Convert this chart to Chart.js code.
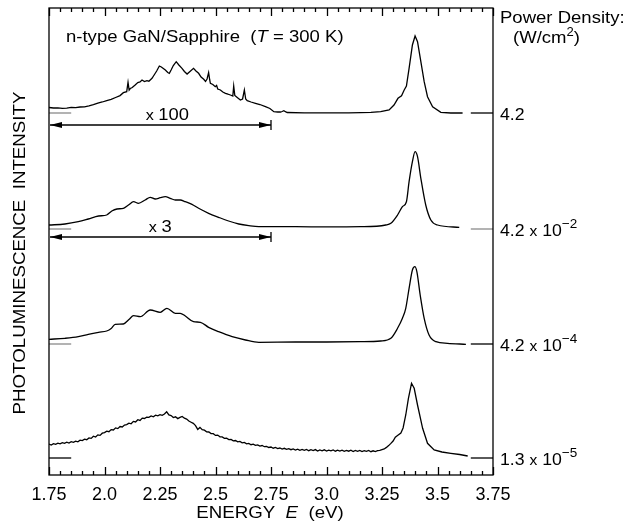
<!DOCTYPE html>
<html><head><meta charset="utf-8">
<script src="https://cdn.jsdelivr.net/npm/chart.js@4.4.1/dist/chart.umd.min.js"></script>
<style>html,body{margin:0;padding:0;background:#fff;overflow:hidden}#wrap{width:630px;height:527px}</style>
</head><body><div id="wrap"><canvas id="c" width="630" height="527"></canvas></div>
<script>
// ---- tick labels ----
const tickLabels = ["1.75","2.0","2.25","2.5","2.75","3.0","3.25","3.5","3.75"];

// ---- series (energy in eV, intensity in arbitrary units above each trace's baseline) ----
const energy1 = [1.75,1.77,1.79,1.81,1.83,1.85,1.87,1.89,1.91,1.93,1.95,1.97,1.99,2.01,2.03,2.05,2.07,2.085,2.100,2.106,2.111,2.116,2.125,2.138,2.150,2.160,2.169,2.180,2.191,2.200,2.214,2.225,2.235,2.247,2.256,2.265,2.274,2.285,2.292,2.300,2.310,2.323,2.335,2.349,2.360,2.372,2.385,2.401,2.412,2.424,2.435,2.447,2.455,2.462,2.469,2.474,2.477,2.488,2.499,2.505,2.510,2.522,2.533,2.545,2.556,2.567,2.578,2.582,2.587,2.598,2.612,2.622,2.630,2.636,2.643,2.660,2.680,2.700,2.725,2.745,2.763,2.780,2.793,2.800,2.808,2.815,2.823,2.90,3.00,3.10,3.154,3.20,3.244,3.282,3.304,3.322,3.338,3.350,3.360,3.372,3.387,3.399,3.410,3.425,3.440,3.455,3.478,3.515,3.560,3.613];
const intensity1 = [5.5,5.0,5.2,4.6,4.9,5.6,5.3,6.0,6.2,7.2,8.4,9.8,11.0,12.4,13.6,15.5,17.4,20.3,21.3,30.7,23.0,24.5,25.5,28.0,30.5,31.0,33.0,31.5,32.3,31.8,34.7,38.5,42.0,47.0,46.0,44.5,43.0,40.5,39.7,43.0,47.5,51.3,48.0,44.7,41.5,39.0,41.5,44.7,42.0,39.7,36.0,33.7,31.5,34.0,40.3,33.0,29.7,28.5,26.3,27.5,24.0,23.0,21.0,19.7,18.8,18.0,17.0,27.0,17.5,15.5,13.0,14.0,23.0,14.0,12.3,11.0,9.7,8.5,6.3,4.5,1.3,1.0,1.0,1.5,2.3,1.3,0.5,0.2,0.2,0.2,0.3,0.6,1.3,3.0,8.0,14.7,17.3,23.0,27.0,44.7,68.0,77.0,71.3,51.3,31.3,16.3,6.3,0.7,0.0,0.0];

const energy2 = [1.75,1.822,1.882,1.927,1.973,2.010,2.033,2.056,2.085,2.108,2.131,2.153,2.183,2.206,2.229,2.251,2.274,2.296,2.319,2.341,2.364,2.394,2.424,2.469,2.514,2.559,2.605,2.650,2.695,2.861,3.000,3.154,3.267,3.290,3.320,3.342,3.360,3.372,3.387,3.399,3.410,3.425,3.447,3.470,3.500,3.598];
const intensity2 = [4.0,5.0,7.3,10.0,13.0,14.0,18.0,20.0,20.7,24.0,27.3,25.7,29.0,31.7,30.0,31.3,32.3,30.7,29.0,29.0,27.3,24.7,20.7,15.7,11.7,8.0,5.0,3.3,2.3,2.3,2.1,2.3,4.0,5.7,14.0,22.3,27.3,47.3,67.3,77.3,72.3,50.7,24.0,9.0,4.0,1.7];

const energy3 = [1.75,1.822,1.882,1.927,1.973,2.010,2.030,2.048,2.085,2.110,2.131,2.161,2.206,2.251,2.281,2.319,2.341,2.364,2.401,2.432,2.469,2.514,2.575,2.635,2.695,2.861,3.000,3.154,3.244,3.290,3.320,3.342,3.357,3.372,3.387,3.398,3.407,3.422,3.440,3.462,3.493,3.545,3.628];
const intensity3 = [4.7,5.7,7.3,9.7,11.7,13.0,15.5,19.7,20.0,24.5,28.3,27.3,34.0,31.7,35.7,30.7,30.7,28.0,22.3,21.7,16.7,12.3,7.3,4.0,1.7,2.0,2.0,2.3,3.0,5.7,15.7,25.7,35.7,55.7,74.0,77.3,72.3,49.0,25.7,9.0,2.3,0.7,-0.3];

const energy4 = [1.75,1.76,1.77,1.78,1.79,1.80,1.81,1.82,1.83,1.84,1.85,1.86,1.87,1.88,1.89,1.90,1.91,1.92,1.93,1.94,1.95,1.96,1.97,1.98,1.99,2.00,2.01,2.02,2.03,2.04,2.05,2.06,2.07,2.08,2.09,2.10,2.11,2.12,2.13,2.14,2.15,2.16,2.17,2.18,2.19,2.20,2.21,2.22,2.23,2.24,2.25,2.26,2.27,2.28,2.29,2.30,2.31,2.32,2.33,2.34,2.35,2.36,2.37,2.38,2.39,2.40,2.41,2.42,2.43,2.44,2.45,2.46,2.47,2.48,2.49,2.50,2.51,2.52,2.53,2.54,2.55,2.56,2.57,2.58,2.59,2.60,2.61,2.62,2.63,2.64,2.65,2.66,2.67,2.68,2.69,2.70,2.71,2.72,2.73,2.74,2.75,2.76,2.77,2.78,2.79,2.80,2.81,2.82,2.83,2.84,2.85,2.86,2.87,2.88,2.89,2.90,2.91,2.92,2.93,2.94,2.95,2.96,2.97,2.98,2.99,3.00,3.01,3.02,3.03,3.04,3.05,3.06,3.07,3.08,3.09,3.10,3.11,3.12,3.13,3.14,3.15,3.16,3.17,3.18,3.19,3.20,3.21,3.22,3.23,3.24,3.25,3.26,3.27,3.28,3.29,3.30,3.31,3.32,3.335,3.345,3.357,3.369,3.383,3.395,3.410,3.433,3.455,3.485,3.52,3.56,3.60,3.636];
const intensity4 = [13.9,13.0,14.4,13.6,14.9,14.1,15.4,14.6,15.8,14.9,16.3,15.6,16.9,16.2,17.8,17.4,18.9,18.3,20.1,19.6,21.8,21.0,23.1,22.6,24.8,25.4,26.9,26.3,28.4,28.0,30.1,29.4,31.5,31.0,33.0,33.4,34.9,34.2,36.6,36.0,38.3,37.6,39.9,39.5,40.9,40.6,42.0,41.2,42.8,42.2,43.4,42.6,44.0,46.2,43.1,42.4,40.5,41.2,39.4,40.6,41.6,39.8,38.9,37.0,35.8,34.6,32.4,28.6,30.6,28.4,27.8,26.2,26.0,24.4,24.3,22.6,22.9,21.2,21.1,19.6,19.9,18.4,18.6,17.2,17.5,16.1,16.6,15.2,15.6,14.2,14.6,13.3,13.9,12.6,13.1,11.9,12.5,11.3,11.6,10.5,11.0,9.8,10.5,9.4,10.0,8.9,9.7,8.6,9.4,8.3,9.0,8.0,8.9,7.7,8.6,7.6,8.5,7.3,8.3,7.5,8.4,7.0,8.1,7.2,8.2,6.9,7.9,7.1,8.0,6.8,7.8,6.9,7.9,6.7,7.6,6.8,7.8,6.5,7.5,6.7,7.6,6.4,7.4,6.6,7.5,6.3,7.2,6.5,7.3,7.6,8.4,9.0,10.6,12.4,14.6,17.0,20.8,22.5,25.0,30.0,43.0,59.7,74.7,69.7,53.0,29.7,14.7,8.0,6.0,4.7,3.5,2.0];

// ---- stacking offsets (vertical offset of each trace), power densities, magnifications ----
const baselineOffsets = [362, 246, 131, 17];
const powerBase = ["4.2", "4.2", "4.2", "1.3"];
const powerExp = ["", "\u22122", "\u22124", "\u22125"];
const magnifications = ["100", "3"];

const energies = [energy1, energy2, energy3, energy4];
const intensities = [intensity1, intensity2, intensity3, intensity4];
const smoothTrace = [false, true, true, false];

const FONT = "'Liberation Sans', Arial, Helvetica, sans-serif";

const datasets = [];
energies.forEach((en, i) => {
  const ds = {
    data: en.map((e, k) => ({x: e, y: intensities[i][k] + baselineOffsets[i]})),
    borderColor: '#000', borderWidth: 1.3, pointRadius: 0, tension: 0, fill: false
  };
  if (smoothTrace[i]) ds.cubicInterpolationMode = 'monotone';
  datasets.push(ds);
});
// baseline markers (left and right)
const markerColors = ['#8a8a8a', '#8a8a8a', '#8a8a8a', '#000'];
const rightMarkerColors = ['#000', '#8a8a8a', '#000', '#000'];
baselineOffsets.forEach((off, i) => {
  datasets.push({data: [{x: 1.75, y: off}, {x: 1.85, y: off}], borderColor: markerColors[i], borderWidth: 1.3, pointRadius: 0});
  datasets.push({data: [{x: 3.65, y: off}, {x: 3.75, y: off}], borderColor: rightMarkerColors[i], borderWidth: 1.3, pointRadius: 0});
});

function drawRuns(ctx, runs, x, y, align, sx) {
  ctx.save();
  ctx.translate(x, y);
  ctx.scale(sx || 1, 1);
  let total = 0;
  runs.forEach(r => { ctx.font = r.font; r.w = ctx.measureText(r.t).width; total += r.w; });
  let cx = align === 'center' ? -total / 2 : 0;
  ctx.textAlign = 'left'; ctx.textBaseline = 'alphabetic'; ctx.fillStyle = '#000';
  runs.forEach(r => { ctx.font = r.font; ctx.fillText(r.t, cx, -(r.dy || 0)); cx += r.w; });
  ctx.restore();
}
const f = (s, it) => (it ? 'italic ' : '') + s + 'px ' + FONT;

const decor = {
  id: 'decor',
  afterDraw(chart) {
    const {ctx, chartArea: a, scales: {x, y}} = chart;
    ctx.save();
    ctx.strokeStyle = '#000';
    ctx.fillStyle = '#000';
    // inside ticks on top and bottom axes
    ctx.lineWidth = 1.3;
    for (let k = 0; k <= 40; k++) {
      const px = Math.round(x.getPixelForValue(1.75 + k * 0.05)) + 0.5;
      const len = (k % 5 === 0) ? 8 : 4;
      ctx.beginPath();
      ctx.moveTo(px, a.bottom);
      ctx.lineTo(px, a.bottom - len);
      ctx.stroke();
      ctx.beginPath();
      ctx.moveTo(px, a.top);
      ctx.lineTo(px, a.top + len);
      ctx.stroke();
    }
    // frame
    ctx.lineWidth = 1.3;
    ctx.strokeRect(a.left, a.top, a.right - a.left, a.bottom - a.top);
    // magnification arrows
    const arrows = [{level: 350, labelE: 2.283}, {level: 238, labelE: 2.251}];
    arrows.forEach((ar, i) => {
      const x0 = x.getPixelForValue(1.75) + 1, x1 = x.getPixelForValue(2.75);
      const py = y.getPixelForValue(ar.level);
      ctx.lineWidth = 1.3;
      ctx.beginPath(); ctx.moveTo(x0, py); ctx.lineTo(x1, py); ctx.stroke();
      ctx.beginPath(); ctx.moveTo(x1, py - 5); ctx.lineTo(x1, py + 5); ctx.stroke();
      ctx.beginPath(); ctx.moveTo(x0, py); ctx.lineTo(x0 + 12, py - 3); ctx.lineTo(x0 + 12, py + 3); ctx.closePath(); ctx.fill();
      ctx.beginPath(); ctx.moveTo(x1, py); ctx.lineTo(x1 - 12, py - 3); ctx.lineTo(x1 - 12, py + 3); ctx.closePath(); ctx.fill();
      drawRuns(ctx, [{t: 'x ', font: f(15)}, {t: magnifications[i], font: f(17)}], x.getPixelForValue(ar.labelE), py - 5, 'center', 1.08);
    });
    ctx.restore();

    // title inside plot
    drawRuns(ctx, [{t: 'n-type GaN/Sapphire  (', font: f(17)}, {t: 'T', font: f(17, true)}, {t: ' = 300 K)', font: f(17)}], 66, 41.5, 'left', 1.09);
    // power density header
    drawRuns(ctx, [{t: 'Power Density:', font: f(17)}], 500, 23, 'left', 1.09);
    drawRuns(ctx, [{t: '(W/cm', font: f(17)}, {t: '2', font: f(12), dy: 7}, {t: ')', font: f(17)}], 513, 43, 'left', 1.09);
    // power labels
    baselineOffsets.forEach((off, i) => {
      const py = y.getPixelForValue(off) + 6.5;
      const runs = [{t: powerBase[i], font: f(17)}];
      if (powerExp[i]) {
        runs.push({t: ' ', font: f(17)}, {t: 'x', font: f(15)}, {t: ' 10', font: f(17)}, {t: powerExp[i], font: f(13), dy: 8});
      }
      drawRuns(ctx, runs, 500, py, 'left', 1.04);
    });
    // x axis title
    drawRuns(ctx, [{t: 'ENERGY  ', font: f(17)}, {t: 'E', font: f(17, true)}, {t: '  (eV)', font: f(17)}], (a.left + a.right) / 2 - 1, 518, 'center', 1.1);
    // y axis title
    ctx.save();
    ctx.translate(25, 253);
    ctx.rotate(-Math.PI / 2);
    drawRuns(ctx, [{t: 'PHOTOLUMINESCENCE  INTENSITY', font: f(17)}], 0, 0, 'center', 1.1);
    ctx.restore();
  }
};

new Chart(document.getElementById('c'), {
  type: 'line',
  data: {datasets},
  options: {
    responsive: false, animation: false, devicePixelRatio: 1,
    layout: {padding: {left: 49, right: 137, top: 8, bottom: 0}},
    plugins: {legend: {display: false}, tooltip: {enabled: false}},
    scales: {
      x: {
        type: 'linear', min: 1.75, max: 3.75,
        grid: {display: false, drawTicks: false},
        border: {display: false},
        ticks: {
          stepSize: 0.25, autoSkip: false, maxRotation: 0, padding: 9, color: '#000',
          font: {family: FONT, size: 18},
          callback: v => tickLabels[Math.round((v - 1.75) / 0.25)]
        },
        afterFit: s => { s.height = 52; }
      },
      y: {display: false, min: 0, max: 467}
    }
  },
  plugins: [decor]
});
</script>
</body></html>
